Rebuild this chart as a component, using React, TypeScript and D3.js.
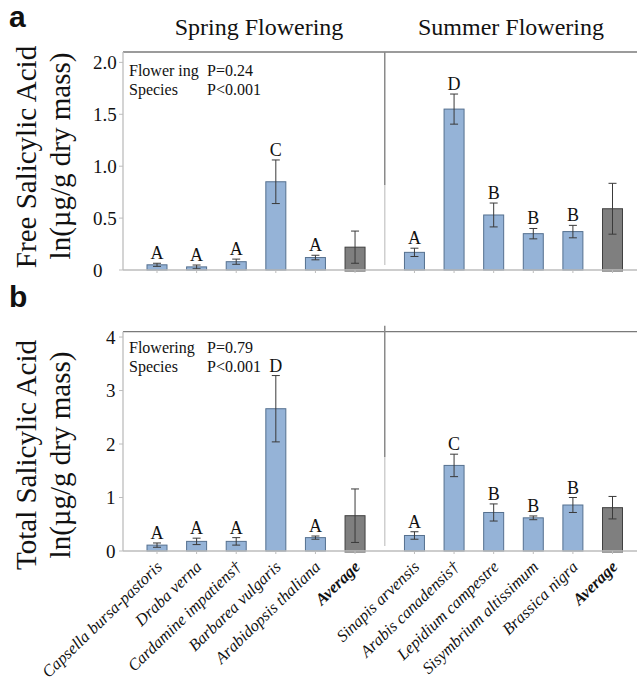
import React from "react";
import * as d3 from "d3";

// Species names for the two flowering groups
const springSpecies = [
  "Capsella bursa-pastoris",
  "Draba verna",
  "Cardamine impatiens†",
  "Barbarea vulgaris",
  "Arabidopsis thaliana",
  "Average",
];
const summerSpecies = [
  "Sinapis arvensis",
  "Arabis canadensis†",
  "Lepidium campestre",
  "Sisymbrium altissimum",
  "Brassica nigra",
  "Average",
];

// Panel a: free salicylic acid, ln(µg/g dry mass)
const freeSpring = [0.05, 0.03, 0.08, 0.85, 0.12, 0.22];
const freeSpringErr = [0.015, 0.018, 0.025, 0.21, 0.022, 0.155];
const freeSummer = [0.17, 1.55, 0.53, 0.35, 0.37, 0.59];
const freeSummerErr = [0.04, 0.145, 0.115, 0.05, 0.06, 0.245];
const freeSpringLetters = ["A", "A", "A", "C", "A", ""];
const freeSummerLetters = ["A", "D", "B", "B", "B", ""];
const freeTicks = [0, 0.5, 1.0, 1.5, 2.0];

// Panel b: total salicylic acid, ln(µg/g dry mass)
const totalSpring = [0.11, 0.18, 0.18, 2.66, 0.25, 0.66];
const totalSpringErr = [0.04, 0.06, 0.07, 0.62, 0.03, 0.5];
const totalSummer = [0.29, 1.6, 0.72, 0.62, 0.86, 0.81];
const totalSummerErr = [0.07, 0.21, 0.16, 0.035, 0.14, 0.21];
const totalSpringLetters = ["A", "A", "A", "D", "A", ""];
const totalSummerLetters = ["A", "C", "B", "B", "B", ""];
const totalTicks = [0, 1, 2, 3, 4];

const W = 637;
const H = 680;
const SERIF = "'Liberation Serif', 'Times New Roman', serif";
const SANS = "'Liberation Sans', Arial, sans-serif";
const BLUE = "#95b3d7";
const BLUE_STROKE = "#55708f";
const GREY = "#7f7f7f";
const GREY_STROKE = "#404040";

type Bar = { name: string; value: number; err: number; letter: string; slot: number; avg: boolean };

function buildBars(
  spring: number[], springErr: number[], springLetters: string[],
  summer: number[], summerErr: number[], summerLetters: string[]
): Bar[] {
  const a = springSpecies.map((name, i) => ({
    name, value: spring[i], err: springErr[i], letter: springLetters[i], slot: i, avg: name === "Average",
  }));
  const b = summerSpecies.map((name, i) => ({
    name, value: summer[i], err: summerErr[i], letter: summerLetters[i], slot: i + 6.5, avg: name === "Average",
  }));
  return [...a, ...b];
}

// Slot index → pixel centre (summer group sits after a wider gap)
const x = d3.scaleLinear().domain([0, 11.5]).range([157, 612.5]);
const barW = 20;
const axisX = 123;
const dividerX = (x(5) + x(6.5)) / 2;

function Panel(props: {
  bars: Bar[];
  yMax: number;
  top: number;
  bottom: number;
  ticks: number[];
  tickFmt: (v: number) => string;
  tickX: number;
  stats: [string, string][];
  statsY: number;
  dividerTop: number;
  dividerMid: number;
}) {
  const { bars, yMax, top, bottom, ticks, tickFmt, tickX, stats, statsY, dividerTop, dividerMid } = props;
  const y = d3.scaleLinear().domain([0, yMax]).range([bottom, top]);
  const y0 = y(0);
  return (
    <g>
      {/* frame */}
      <line x1={axisX} x2={W} y1={top} y2={top} stroke="#7a7a7a" strokeWidth={1.3} />
      <line x1={axisX} x2={axisX} y1={top} y2={y0} stroke="#bdbdbd" strokeWidth={1.3} />
      <line x1={dividerX} x2={dividerX} y1={dividerTop} y2={dividerMid} stroke="#8a8a8a" strokeWidth={1.5} />
      <line x1={dividerX} x2={dividerX} y1={dividerMid} y2={y0 - 5} stroke="#cfcfcf" strokeWidth={1.5} />
      {ticks.map((t) => (
        <g key={t}>
          <line x1={axisX - 4} x2={axisX} y1={y(t)} y2={y(t)} stroke="#bdbdbd" />
          <text x={tickX} y={y(t)} dy="0.35em" fontFamily={SERIF} fontSize={19} fill="#111">
            {tickFmt(t)}
          </text>
        </g>
      ))}
      {stats.map((row, i) => (
        <g key={i} fontFamily={SERIF} fontSize={16} fill="#111">
          <text x={129} y={statsY + i * 19}>{row[0]}</text>
          <text x={207} y={statsY + i * 19}>{row[1]}</text>
        </g>
      ))}
      {bars.map((b, i) => {
        const cx = x(b.slot);
        const yt = y(b.value);
        const eTop = y(b.value + b.err);
        const eBot = y(b.value - b.err);
        return (
          <g key={i}>
            <rect
              x={cx - barW / 2}
              y={yt}
              width={barW}
              height={y0 - yt + (b.avg ? 1 : 0)}
              fill={b.avg ? GREY : BLUE}
              stroke={b.avg ? GREY_STROKE : BLUE_STROKE}
              strokeWidth={1}
            />
            <line x1={cx} x2={cx} y1={eTop} y2={eBot} stroke="#3a3a3a" strokeWidth={1} />
            <line x1={cx - 4} x2={cx + 4} y1={eTop} y2={eTop} stroke="#3a3a3a" strokeWidth={1} />
            <line x1={cx - 4} x2={cx + 4} y1={eBot} y2={eBot} stroke="#3a3a3a" strokeWidth={1} />
            {b.letter && (
              <text x={cx} y={eTop - 4} textAnchor="middle" fontFamily={SERIF} fontSize={18} fill="#111">
                {b.letter}
              </text>
            )}
            <line x1={cx} x2={cx} y1={y0} y2={y0 + 3} stroke="#bdbdbd" />
          </g>
        );
      })}
      <line x1={axisX} x2={W} y1={y0} y2={y0} stroke="#bdbdbd" strokeWidth={1.3} />
    </g>
  );
}

export default function App() {
  const freeBars = buildBars(freeSpring, freeSpringErr, freeSpringLetters, freeSummer, freeSummerErr, freeSummerLetters);
  const totalBars = buildBars(totalSpring, totalSpringErr, totalSpringLetters, totalSummer, totalSummerErr, totalSummerLetters);
  const labelY = 568;
  return (
    <svg width={W} height={H} style={{ position: "absolute", left: 0, top: 0, background: "#fff" }}>
      <rect width={W} height={H} fill="#fff" />
      {/* group headings */}
      <text x={259} y={35} textAnchor="middle" fontFamily={SERIF} fontSize={24} fill="#111">Spring Flowering</text>
      <text x={511} y={35} textAnchor="middle" fontFamily={SERIF} fontSize={24} fill="#111">Summer Flowering</text>
      {/* panel letters */}
      <text x={9} y={27} fontFamily={SANS} fontWeight="bold" fontSize={30} fill="#111">a</text>
      <text x={9} y={307} fontFamily={SANS} fontWeight="bold" fontSize={30} fill="#111">b</text>
      {/* y-axis titles */}
      <g fontFamily={SERIF} fontSize={29} fill="#111" textAnchor="middle">
        <text transform="translate(36,157) rotate(-90)">Free Salicylic Acid</text>
        <text transform="translate(70,156) rotate(-90)">ln(µg/g dry mass)</text>
        <text transform="translate(36,455) rotate(-90)">Total Salicylic Acid</text>
        <text transform="translate(70,455) rotate(-90)">ln(µg/g dry mass)</text>
      </g>
      <Panel
        bars={freeBars}
        yMax={2.1}
        top={52}
        bottom={270}
        ticks={freeTicks}
        tickFmt={(v) => (v === 0 ? "0" : d3.format(".1f")(v))}
        tickX={93}
        stats={[["Flower ing", "P=0.24"], ["Species", "P<0.001"]]}
        statsY={76}
        dividerTop={52}
        dividerMid={185}
        />
      <Panel
        bars={totalBars}
        yMax={4.1}
        top={331.7}
        bottom={551}
        ticks={totalTicks}
        tickFmt={(v) => String(v)}
        tickX={106}
        stats={[["Flowering", "P=0.79"], ["Species", "P<0.001"]]}
        statsY={353}
        dividerTop={325.7}
        dividerMid={457}
      />
      {/* species labels */}
      {totalBars.map((b, i) => (
        <text
          key={i}
          transform={`translate(${x(b.slot) + 6},${labelY}) rotate(-44)`}
          textAnchor="end"
          fontFamily={SERIF}
          fontStyle="italic"
          fontWeight={b.avg ? "bold" : "normal"}
          fontSize={16.5}
          fill="#111"
        >
          {b.name}
        </text>
      ))}
    </svg>
  );
}
